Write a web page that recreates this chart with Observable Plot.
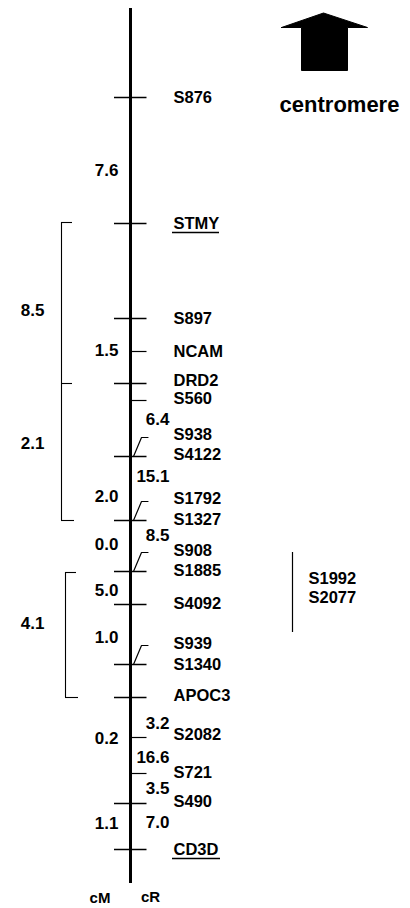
<!DOCTYPE html>
<html><head><meta charset="utf-8">
<script src="https://cdn.jsdelivr.net/npm/d3@7"></script>
<script src="https://cdn.jsdelivr.net/npm/@observablehq/plot@0.6"></script>
<style>body{margin:0;background:#fff}</style>
</head><body><div id="chart"></div>
<script>
// ---- data (positions along the drawn chromosome, top = centromere side) ----
const tickPos   = [97, 223, 318, 351, 383, 400, 456, 520, 571, 604, 664, 697, 737, 773, 803, 849];
const tickSide  = ["both","both","both","right","both","right","both","both","both","both","both","both","right","right","both","both"];
const locusNames = ["S876","STMY","S897","NCAM","DRD2","S560","S938","S4122","S1792","S1327","S908","S1885","S4092","S939","S1340","APOC3","S2082","S721","S490","CD3D"];
const locusPos   = [97, 223, 318, 351, 380, 398, 434, 454, 498, 519, 550, 570, 603, 643, 664, 695, 734, 772, 801, 849];
const underlined = ["STMY", "CD3D"];
const pairedTicks = [456, 520, 571, 664];          // ticks carrying two loci (slanted leader)
const cMValues = ["7.6","1.5","2.0","0.0","5.0","1.0","0.2","1.1"];
const cMPos    = [170, 350, 496, 544, 590, 637, 738, 823];
const cMBracketValues = ["8.5","2.1","4.1"];
const cMBracketPos    = [310, 443, 623];
const cRValues = ["6.4","15.1","8.5","3.2","16.6","3.5","7.0"];
const cRPos    = [419, 476, 535, 723, 757, 788, 822];
const bracketSpans = [[222, 383, 520], [572, 697]];
const unplacedNames = ["S1992", "S2077"];
const unplacedPos   = [578, 597];
const unplacedSpan  = [552, 632];
const axisTitles = ["cM", "cR"];

// ---- layout constants (drawing units) ----
const AX = 130, TOP = 8, BOTTOM = 883;
const LABEL_X = 173, CM_X = 118, CMB_X = 44, CR_X = 169;
const BRACKET_X = [61, 65];
const UNPLACED_X = 292;
const font = {fontFamily: "Liberation Sans, Arial, sans-serif", fontWeight: "bold", fill: "black"};
const FS = 16.5;

const ticks = tickPos.map((y, i) => ({y, x1: tickSide[i] === "both" ? 114 : AX, x2: 146.5, side: tickSide[i]}));
const loci = locusNames.map((name, i) => ({name, y: locusPos[i]}));
const leaders = pairedTicks.flatMap((y, k) => [
  {k, x: 133, y}, {k, x: 141, y: y - 19}, {k, x: 147.5, y: y - 19}
]);
const bracketVert = bracketSpans.map((s, i) => ({x: BRACKET_X[i], y1: s[0], y2: s[s.length - 1]}));
const bracketTicks = bracketSpans.flatMap((s, i) => s.map((y, j) => ({y, x1: BRACKET_X[i], x2: BRACKET_X[i] + (j === s.length - 1 ? 13 : 11)})));
const arrow = [[281,27],[323,12.5],[367,27],[347,27],[347,70],[301,70],[301,27],[281,27]].map(([x, y]) => ({x, y}));

const chart = Plot.plot({
  width: 410, height: 908, margin: 0,
  x: {domain: [0, 410], range: [0, 410], axis: null},
  y: {domain: [0, 908], range: [0, 908], axis: null},
  marks: [
    // chromosome
    Plot.ruleX([AX], {y1: TOP, y2: BOTTOM, stroke: "black", strokeWidth: 3}),
    Plot.ruleY(ticks, {y: "y", x1: "x1", x2: "x2", stroke: "black", strokeWidth: d => d.side === "both" ? 1.6 : 1.2}),
    Plot.line(leaders, {x: "x", y: "y", z: "k", stroke: "black", strokeWidth: 1.2}),
    // locus labels
    Plot.text(loci, {x: LABEL_X, y: "y", text: "name", textAnchor: "start", fontSize: FS, ...font}),
    Plot.ruleY(loci.filter(d => underlined.includes(d.name)), {y: d => d.y + 9, x1: LABEL_X - 1, x2: d => LABEL_X + (d.name === "STMY" ? 46 : 47), stroke: "black", strokeWidth: 1.3}),
    // cM distances
    Plot.text(cMValues, {x: CM_X, y: (d, i) => cMPos[i], text: d => d, textAnchor: "end", fontSize: 17, ...font}),
    Plot.text(cMBracketValues, {x: CMB_X, y: (d, i) => cMBracketPos[i], text: d => d, textAnchor: "end", fontSize: 17, ...font}),
    // cR distances
    Plot.text(cRValues, {x: CR_X, y: (d, i) => cRPos[i], text: d => d, textAnchor: "end", fontSize: 17, ...font}),
    // brackets
    Plot.ruleX(bracketVert, {x: "x", y1: "y1", y2: "y2", stroke: "black", strokeWidth: 1.1}),
    Plot.ruleY(bracketTicks, {y: "y", x1: "x1", x2: "x2", stroke: "black", strokeWidth: 1.1}),
    // unplaced loci
    Plot.ruleX([UNPLACED_X], {y1: unplacedSpan[0], y2: unplacedSpan[1], stroke: "black", strokeWidth: 1.2}),
    Plot.text(unplacedNames, {x: 308, y: (d, i) => unplacedPos[i], text: d => d, textAnchor: "start", fontSize: FS, ...font}),
    // centromere arrow
    Plot.line(arrow, {x: "x", y: "y", stroke: "black", fill: "black", strokeWidth: 1}),
    Plot.text(["centromere"], {x: 339, y: 104, text: d => d, textAnchor: "middle", fontSize: 22, ...font}),
    // axis titles
    Plot.text(axisTitles, {x: (d, i) => [99.5, 150][i], y: (d, i) => [898, 897][i], text: d => d, textAnchor: "middle", fontSize: 15, ...font})
  ]
});
document.getElementById("chart").appendChild(chart);
</script>
</body></html>
